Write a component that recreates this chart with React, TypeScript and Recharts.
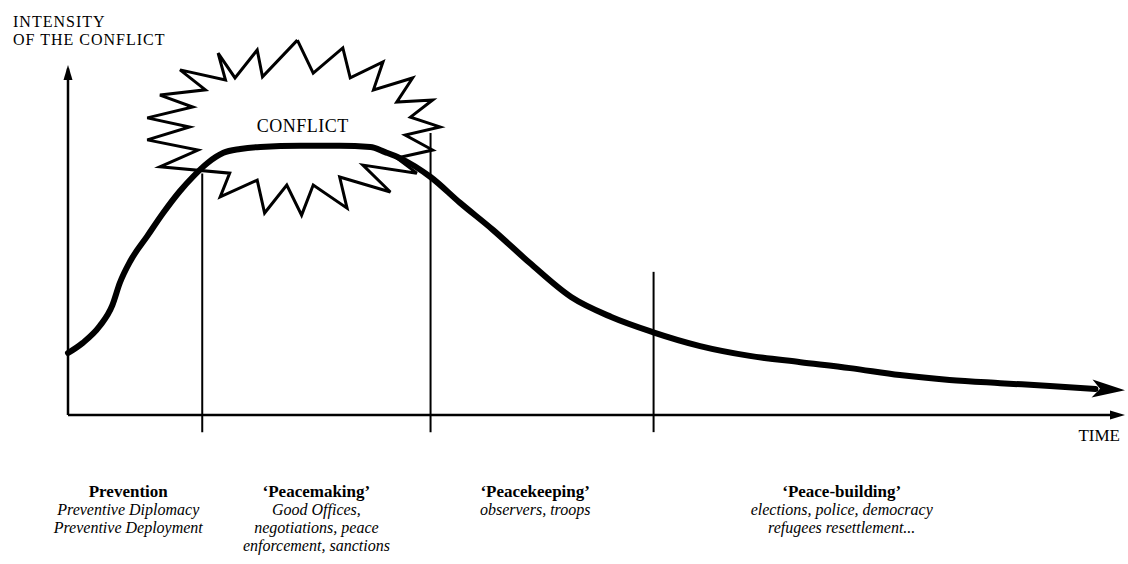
import { LineChart, Line, XAxis, YAxis, ReferenceLine, ReferenceDot } from "recharts";

// time runs 0..100 along the x axis, intensity 0..100 up the y axis
const curveTime = [
  0, 1.4, 3, 4.2, 4.9, 5.9, 7.5, 9, 10.6, 11.8, 13.2, 14.7, 16.3, 18.2, 22, 25.7, 28.6, 30, 31.4,
  34.3, 37.1, 40.2, 43.7, 47.6, 51.4, 55.3, 59.8, 64.5, 69.3, 74, 78.7, 83.4, 88.2, 92.9, 97.2,
];
const curveIntensity = [
  17.7, 20.6, 25.4, 31.4, 37.7, 44, 51.1, 57.7, 64, 68, 72, 74.9, 76, 76.6, 76.9, 76.9, 76.6, 75.1,
  73.4, 68, 60.6, 52.9, 43.4, 33.7, 28, 23.7, 19.7, 16.9, 15.1, 13.4, 11.4, 10, 9.1, 8.3, 7.4,
];
const arrowTip = { t: 100, v: 7.1 };

// outline of the "conflict" burst, clockwise from the top spike
const starTime = [
  21.7, 23.2, 26, 26.7, 29.8, 28.9, 32.6, 31.1, 34.5, 32.4, 35.2, 31.9, 34.5, 31.1, 33, 27.9, 30.5,
  25.7, 26.4, 23.2, 22.1, 20.7, 18.6, 17.9, 14.4, 15.3, 8.7, 12.3, 7.5, 11.5, 7.5, 11.8, 8.7, 13,
  10.6, 14.9, 14.2, 15.8, 17.9, 18.4, 21.7,
];
const starIntensity = [
  107.1, 97.7, 104.9, 96.3, 100.9, 92.9, 96.3, 89.4, 90, 85.1, 82.3, 80, 75.7, 73.4, 69.1, 71.4,
  63.7, 68, 59.1, 65.7, 57.1, 65.7, 57.7, 67.1, 62.3, 69.1, 70.9, 75.7, 78.6, 82.3, 84.9, 88, 91.4,
  92.9, 98.6, 95.7, 103.4, 96.3, 104.3, 96.6, 107.1,
];

// phase boundaries and the height each divider reaches
const dividerTime = [12.7, 34.3, 55.4];
const dividerTop = [69, 80.6, 40.9];

const phaseCenter = [5.7, 23.5, 44.2, 73.2];
const phaseTitles = ["Prevention", "\u2018Peacemaking\u2019", "\u2018Peacekeeping\u2019", "\u2018Peace-building\u2019"];
const phaseDetails = [
  ["Preventive Diplomacy", "Preventive Deployment"],
  ["Good Offices,", "negotiations, peace", "enforcement, sanctions"],
  ["observers, troops"],
  ["elections, police, democracy", "refugees resettlement..."],
];

const curveData = curveTime.map((t, i) => ({ t, v: curveIntensity[i] }));
const starData = starTime.map((t, i) => ({ t, v: starIntensity[i] }));

const serif = "'Liberation Serif', 'Times New Roman', serif";

export default function App() {
  return (
    <div style={{ position: "absolute", left: 0, top: 0, width: 1128, height: 564, background: "#fff" }}>
      <LineChart width={1128} height={564} margin={{ top: 30, right: 3, bottom: 149, left: 68 }}>
        <XAxis type="number" dataKey="t" domain={[0, 100]} hide />
        <YAxis type="number" domain={[0, 110]} hide />

        {/* axes drawn by hand so they can carry arrow heads */}
        <ReferenceLine
          segment={[{ x: 0, y: 0 }, { x: 0, y: 99 }]}
          stroke="#000"
          strokeWidth={2.5}
          ifOverflow="visible"
        />
        <ReferenceLine
          segment={[{ x: 0, y: 0 }, { x: 99, y: 0 }]}
          stroke="#000"
          strokeWidth={2.5}
          ifOverflow="visible"
        />
        <ReferenceDot
          x={0}
          y={100}
          ifOverflow="visible"
          shape={(p: any) => (
            <g fontFamily={serif} fontSize={16} letterSpacing={1} fill="#000">
              <polygon points={`${p.cx},${p.cy} ${p.cx - 4.5},${p.cy + 15} ${p.cx + 4.5},${p.cy + 15}`} />
              <text x={p.cx - 55} y={p.cy - 38}>
                INTENSITY
              </text>
              <text x={p.cx - 55} y={p.cy - 20}>
                OF THE CONFLICT
              </text>
            </g>
          )}
        />
        <ReferenceDot
          x={100}
          y={0}
          ifOverflow="visible"
          shape={(p: any) => (
            <g>
              <polygon points={`${p.cx},${p.cy} ${p.cx - 15},${p.cy - 4.5} ${p.cx - 15},${p.cy + 4.5}`} fill="#000" />
              <text x={p.cx - 5} y={p.cy + 26} textAnchor="end" fontFamily={serif} fontSize={17} fill="#000">
                TIME
              </text>
            </g>
          )}
        />

        {dividerTime.map((t, i) => (
          <ReferenceLine
            key={t}
            segment={[{ x: t, y: -4.9 }, { x: t, y: dividerTop[i] }]}
            stroke="#000"
            strokeWidth={2}
            ifOverflow="visible"
          />
        ))}

        <Line
          data={starData}
          dataKey="v"
          type="linear"
          stroke="#000"
          strokeWidth={3}
          strokeLinejoin="miter"
          dot={false}
          isAnimationActive={false}
        />
        <ReferenceDot
          x={22.2}
          y={80.9}
          ifOverflow="visible"
          shape={(p: any) => (
            <text x={p.cx} y={p.cy} textAnchor="middle" fontFamily={serif} fontSize={18} letterSpacing={0.5} fill="#000">
              CONFLICT
            </text>
          )}
        />

        <Line
          data={curveData}
          dataKey="v"
          type="monotone"
          stroke="#000"
          strokeWidth={6}
          strokeLinecap="round"
          dot={false}
          isAnimationActive={false}
        />
        <ReferenceDot
          x={arrowTip.t}
          y={arrowTip.v}
          ifOverflow="visible"
          shape={(p: any) => (
            <polygon
              transform={`rotate(3 ${p.cx} ${p.cy})`}
              points={`${p.cx},${p.cy} ${p.cx - 33},${p.cy - 9} ${p.cx - 25},${p.cy} ${p.cx - 33},${p.cy + 9}`}
              fill="#000"
            />
          )}
        />

        {phaseTitles.map((title, i) => (
          <ReferenceDot
            key={title}
            x={phaseCenter[i]}
            y={0}
            ifOverflow="visible"
            shape={(p: any) => (
              <g fontFamily={serif} fill="#000" textAnchor="middle">
                <text x={p.cx} y={p.cy + 82} fontSize={17} fontWeight="bold">
                  {title}
                </text>
                {phaseDetails[i].map((line, j) => (
                  <text key={line} x={p.cx} y={p.cy + 100 + j * 18} fontSize={16} fontStyle="italic">
                    {line}
                  </text>
                ))}
              </g>
            )}
          />
        ))}
      </LineChart>
    </div>
  );
}
